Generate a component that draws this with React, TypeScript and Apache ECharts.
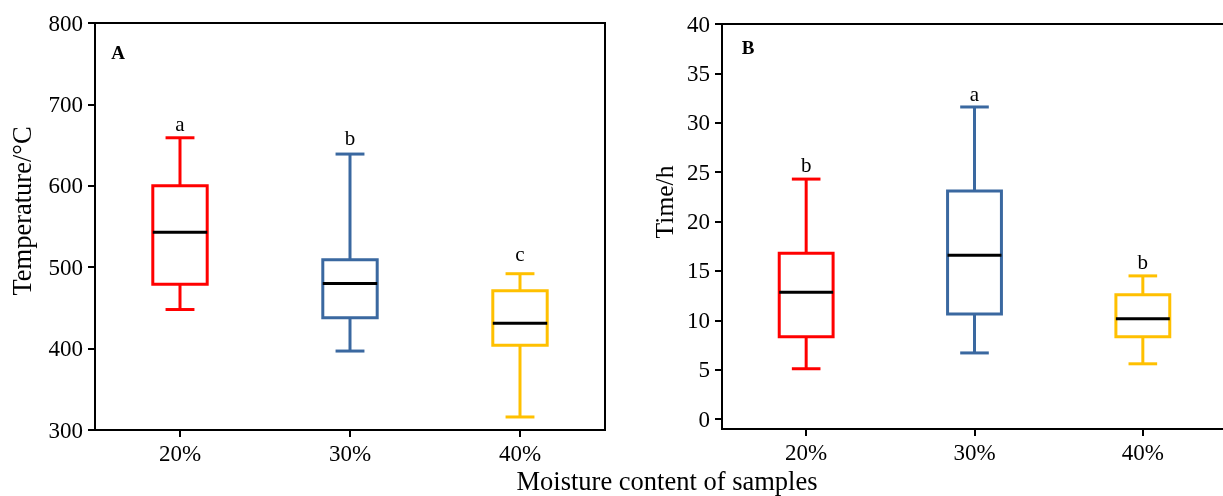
import React, { useEffect, useRef } from "react";
import * as echarts from "echarts";

const categories = ["20%", "30%", "40%"];
const colors = ["#FF0000", "#3A68A0", "#FFC000"];

// Panel A: temperature (°C) — [low, Q1, median, Q3, high]
const tempLow = [448, 397, 316];
const tempQ1 = [479, 438, 404];
const tempMedian = [543, 480, 431];
const tempQ3 = [600, 509, 471];
const tempHigh = [659, 639, 492];
const tempLetters = ["a", "b", "c"];
const tempLetterY = [676, 659, 516];

// Panel B: time (h)
const timeLow = [5.1, 6.7, 5.6];
const timeQ1 = [8.35, 10.65, 8.35];
const timeMedian = [12.85, 16.6, 10.15];
const timeQ3 = [16.8, 23.1, 12.6];
const timeHigh = [24.3, 31.6, 14.5];
const timeLetters = ["b", "a", "b"];
const timeLetterY = [25.7, 32.9, 15.9];

const tempTicks = [300, 400, 500, 600, 700, 800];
const timeTicks = [0, 5, 10, 15, 20, 25, 30, 35, 40];

const FONT = "'Liberation Serif', 'Times New Roman', serif";

function buildData(low: number[], q1: number[], med: number[], q3: number[], high: number[], ly: number[]) {
  return categories.map((_, i) => [i, low[i], q1[i], med[i], q3[i], high[i], ly[i]]);
}

function makeRender(letters: string[]) {
  return (params: any, api: any) => {
    const i = api.value(0);
    const band = api.size([1, 0])[0];
    const boxW = band * 0.32;
    const capW = band * 0.17;
    const pLow = api.coord([i, api.value(1)]);
    const pQ1 = api.coord([i, api.value(2)]);
    const pMed = api.coord([i, api.value(3)]);
    const pQ3 = api.coord([i, api.value(4)]);
    const pHigh = api.coord([i, api.value(5)]);
    const pLet = api.coord([i, api.value(6)]);
    const cx = pMed[0];
    const color = colors[i];
    const ls = { stroke: color, lineWidth: 3, fill: "none" };
    return {
      type: "group",
      children: [
        { type: "line", shape: { x1: cx, y1: pHigh[1], x2: cx, y2: pQ3[1] }, style: ls },
        { type: "line", shape: { x1: cx, y1: pQ1[1], x2: cx, y2: pLow[1] }, style: ls },
        { type: "line", shape: { x1: cx - capW / 2, y1: pHigh[1], x2: cx + capW / 2, y2: pHigh[1] }, style: ls },
        { type: "line", shape: { x1: cx - capW / 2, y1: pLow[1], x2: cx + capW / 2, y2: pLow[1] }, style: ls },
        {
          type: "rect",
          shape: { x: cx - boxW / 2, y: pQ3[1], width: boxW, height: pQ1[1] - pQ3[1] },
          style: { stroke: color, lineWidth: 3, fill: "#ffffff" },
        },
        {
          type: "line",
          shape: { x1: cx - boxW / 2, y1: pMed[1], x2: cx + boxW / 2, y2: pMed[1] },
          style: { stroke: "#000000", lineWidth: 3 },
        },
        {
          type: "text",
          x: cx,
          y: pLet[1],
          style: {
            text: letters[i],
            fill: "#000",
            font: `21px ${FONT}`,
            align: "center",
            verticalAlign: "middle",
          },
        },
      ],
    };
  };
}

export default function App() {
  const ref = useRef<HTMLDivElement>(null);
  useEffect(() => {
    const chart = echarts.init(ref.current!, null, { renderer: "svg" });
    const axisLabel = { color: "#000", fontFamily: FONT, fontSize: 23 };
    const xAxisCommon = {
      type: "category" as const,
      data: categories,
      axisLine: { show: true, onZero: false, lineStyle: { color: "#000", width: 2 } },
      axisTick: { show: true, alignWithLabel: true, length: 7, lineStyle: { color: "#000", width: 2 } },
      axisLabel: { ...axisLabel, margin: 12 },
      splitLine: { show: false },
    };
    chart.setOption({
      animation: false,
      grid: [
        { left: 95, top: 23, width: 510, height: 407, show: true, borderColor: "#000", borderWidth: 2, containLabel: false },
        { left: 722, top: 24, width: 505, height: 405, show: true, borderColor: "#000", borderWidth: 2, containLabel: false },
      ],
      xAxis: [
        { ...xAxisCommon, gridIndex: 0 },
        { ...xAxisCommon, gridIndex: 1 },
      ],
      yAxis: [
        {
          type: "value",
          gridIndex: 0,
          min: 300,
          max: 800,
          interval: 100,
          axisLine: { show: true, lineStyle: { color: "#000", width: 2 } },
          axisTick: { show: true, length: 7, lineStyle: { color: "#000", width: 2 } },
          axisLabel: { ...axisLabel, margin: 12, customValues: tempTicks },
          splitLine: { show: false },
        },
        {
          type: "value",
          gridIndex: 1,
          min: -1,
          max: 40,
          axisLine: { show: true, onZero: false, lineStyle: { color: "#000", width: 2 } },
          axisTick: { show: true, length: 7, lineStyle: { color: "#000", width: 2 }, customValues: timeTicks },
          axisLabel: { ...axisLabel, margin: 12, customValues: timeTicks },
          splitLine: { show: false },
        },
      ],
      series: [
        {
          type: "custom",
          xAxisIndex: 0,
          yAxisIndex: 0,
          renderItem: makeRender(tempLetters),
          data: buildData(tempLow, tempQ1, tempMedian, tempQ3, tempHigh, tempLetterY),
          encode: { x: 0, y: [1, 2, 3, 4, 5, 6] },
        },
        {
          type: "custom",
          xAxisIndex: 1,
          yAxisIndex: 1,
          renderItem: makeRender(timeLetters),
          data: buildData(timeLow, timeQ1, timeMedian, timeQ3, timeHigh, timeLetterY),
          encode: { x: 0, y: [1, 2, 3, 4, 5, 6] },
        },
      ],
      graphic: [
        {
          type: "text",
          x: 22,
          y: 211,
          rotation: Math.PI / 2,
          style: { text: "Temperature/°C", font: `26.5px ${FONT}`, fill: "#000", align: "center", verticalAlign: "middle" },
        },
        {
          type: "text",
          x: 664,
          y: 202,
          rotation: Math.PI / 2,
          style: { text: "Time/h", font: `25.5px ${FONT}`, fill: "#000", align: "center", verticalAlign: "middle" },
        },
        {
          type: "text",
          x: 667,
          y: 481,
          style: { text: "Moisture content of samples", font: `26.5px ${FONT}`, fill: "#000", align: "center", verticalAlign: "middle" },
        },
        {
          type: "text",
          x: 118,
          y: 52,
          style: { text: "A", font: `bold 19px ${FONT}`, fill: "#000", align: "center", verticalAlign: "middle" },
        },
        {
          type: "text",
          x: 748,
          y: 47,
          style: { text: "B", font: `bold 19px ${FONT}`, fill: "#000", align: "center", verticalAlign: "middle" },
        },
      ],
    });
    return () => chart.dispose();
  }, []);
  return <div ref={ref} style={{ width: 1245, height: 496, position: "fixed", left: 0, top: 0 }} />;
}
